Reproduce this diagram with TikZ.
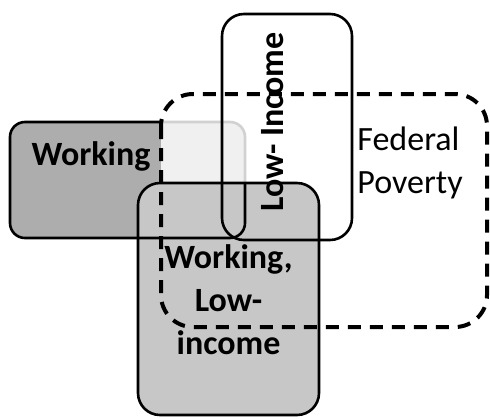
\documentclass[tikz,border=0pt]{standalone}
\usepackage{fontspec}
\setmainfont{Carlito}
\tikzset{
  box/.style={
    draw,
    line width=1.3pt,
    rounded corners=10pt
  },
  fedline/.style={
    draw,
    line width=2pt,
    dash pattern=on 6.5pt off 4.5pt,
    rounded corners=16pt
  },
  boxtext/.style={
    inner sep=0pt,
    font=\fontsize{17}{21.5}\selectfont\bfseries
  },
  fedtext/.style={
    inner sep=0pt,
    font=\fontsize{17}{21.5}\selectfont
  }
}

\begin{document}
\begin{tikzpicture}[x=0.5pt,y=-0.5pt]
  \useasboundingbox (0,0) rectangle (490,418);
  % shaded "working" box, then the poverty area washes over it
  \path[box, rounded corners=7.5pt, fill=black!32] (10,122) rectangle (245,238);
  \fill[white, opacity=0.82, rounded corners=16pt] (161,94) rectangle (487,327);
  \fill[black!22, rounded corners=11pt] (138,183) rectangle (319,415);
  \begin{scope}
    \clip[rounded corners=11pt] (138,183) rectangle (319,415);
    \path[box, rounded corners=7.5pt] (10,122) rectangle (245,238);
  \end{scope}
  % outlines on top
  \path[box, rounded corners=11pt] (138,183) rectangle (319,415);
  \path[box, rounded corners=11pt] (222,14) rectangle (352,240);
  \path[fedline] (161,94) rectangle (487,327);
  % texts
  \node[boxtext, anchor=base] (working) at (91,165) {Working};
  \node[boxtext, rotate=90, anchor=base] (lowinc) at (283,122) {Low- Income};
  \node[fedtext, align=left, anchor=west] (federal) at (357,163) {Federal\\Poverty};
  \node[boxtext, align=center] (both) at (228.5,300) {Working,\\Low-\\income};
\end{tikzpicture}
\end{document}
